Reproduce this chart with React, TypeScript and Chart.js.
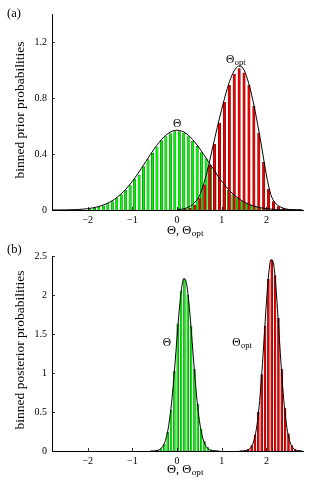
import React, { useEffect, useRef } from 'react';
import { Chart, registerables } from 'chart.js';

Chart.register(...registerables);

const FONT = '"Liberation Serif", "Times New Roman", serif';

// ---------- shared axis ticks ----------
const xTicks = [-2, -1, 0, 1, 2];
const yTicksA = [0, 0.4, 0.8, 1.2];
const yTicksB = [0, 0.5, 1, 1.5, 2, 2.5];

// ---------- panel (a): prior ----------
const priorThetaBinX = [-1.95, -1.85, -1.75, -1.65, -1.55, -1.45, -1.35, -1.25, -1.15, -1.05, -0.95, -0.85, -0.75, -0.65, -0.55, -0.45, -0.35, -0.25, -0.15, -0.05, 0.05, 0.15, 0.25, 0.35, 0.45, 0.55, 0.65, 0.75, 0.85, 0.95, 1.05, 1.15, 1.25, 1.35, 1.45, 1.55, 1.65, 1.75, 1.85, 1.95];
const priorThetaBinY = [0.007, 0.012, 0.02, 0.03, 0.045, 0.06, 0.085, 0.11, 0.14, 0.175, 0.22, 0.25, 0.31, 0.36, 0.405, 0.45, 0.495, 0.525, 0.545, 0.56, 0.56, 0.55, 0.525, 0.49, 0.455, 0.41, 0.365, 0.315, 0.27, 0.22, 0.18, 0.14, 0.11, 0.085, 0.06, 0.045, 0.032, 0.022, 0.014, 0.008];
const priorOptBinX = [0.18, 0.29, 0.4, 0.51, 0.62, 0.73, 0.84, 0.95, 1.06, 1.17, 1.28, 1.39, 1.5, 1.61, 1.72, 1.83, 1.94, 2.05, 2.16, 2.27, 2.38, 2.49];
const priorOptBinY = [0.004, 0.012, 0.035, 0.085, 0.18, 0.32, 0.47, 0.62, 0.77, 0.89, 0.97, 1.01, 0.98, 0.89, 0.74, 0.55, 0.34, 0.15, 0.06, 0.025, 0.01, 0.004];
const priorThetaCurveX = [-2.8, -2.7, -2.6, -2.5, -2.4, -2.3, -2.2, -2.1, -2.0, -1.9, -1.8, -1.7, -1.6, -1.5, -1.4, -1.3, -1.2, -1.1, -1.0, -0.9, -0.8, -0.7, -0.6, -0.5, -0.4, -0.3, -0.2, -0.1, 0, 0.1, 0.2, 0.3, 0.4, 0.5, 0.6, 0.7, 0.8, 0.9, 1.0, 1.1, 1.2, 1.3, 1.4, 1.5, 1.6, 1.7, 1.8, 1.9, 2.0, 2.1, 2.2, 2.3, 2.4, 2.5, 2.6, 2.7, 2.8];
const priorThetaCurveY = [0.0002, 0.0003, 0.0006, 0.001, 0.0016, 0.0026, 0.0041, 0.0063, 0.0096, 0.0143, 0.021, 0.03, 0.042, 0.057, 0.077, 0.102, 0.131, 0.166, 0.205, 0.249, 0.297, 0.346, 0.395, 0.442, 0.484, 0.52, 0.547, 0.564, 0.57, 0.564, 0.547, 0.52, 0.484, 0.442, 0.395, 0.346, 0.297, 0.249, 0.205, 0.166, 0.131, 0.102, 0.077, 0.057, 0.042, 0.03, 0.021, 0.0143, 0.0096, 0.0063, 0.0041, 0.0026, 0.0016, 0.001, 0.0006, 0.0003, 0.0002];
const priorOptCurveX = [0, 0.1, 0.2, 0.3, 0.4, 0.5, 0.6, 0.7, 0.8, 0.9, 1.0, 1.1, 1.2, 1.3, 1.4, 1.5, 1.6, 1.7, 1.8, 1.9, 2.0, 2.1, 2.2, 2.3, 2.4, 2.5, 2.6, 2.7, 2.8];
const priorOptCurveY = [0.003, 0.006, 0.013, 0.028, 0.055, 0.1, 0.19, 0.31, 0.45, 0.59, 0.72, 0.84, 0.94, 1.005, 1.03, 1.0, 0.91, 0.78, 0.62, 0.44, 0.25, 0.11, 0.05, 0.024, 0.011, 0.004, 0.002, 0.0005, 0];

// ---------- panel (b): posterior ----------
const postThetaBinX = [-0.435, -0.36, -0.285, -0.21, -0.135, -0.06, 0.015, 0.09, 0.165, 0.24, 0.315, 0.39, 0.465, 0.54, 0.615, 0.69, 0.765, 0.84];
const postThetaBinY = [0.01, 0.03, 0.09, 0.24, 0.52, 1.02, 1.63, 2.05, 2.2, 2.0, 1.6, 1.05, 0.6, 0.28, 0.12, 0.045, 0.015, 0.005];
const postOptBinX = [1.52, 1.595, 1.67, 1.745, 1.82, 1.895, 1.97, 2.045, 2.12, 2.195, 2.27, 2.345, 2.42, 2.495, 2.57, 2.645, 2.72];
const postOptBinY = [0.005, 0.02, 0.07, 0.2, 0.5, 0.98, 1.6, 2.2, 2.45, 2.25, 1.7, 1.05, 0.55, 0.22, 0.07, 0.02, 0.006];
const postThetaCurveX = [-0.6, -0.55, -0.5, -0.45, -0.4, -0.35, -0.3, -0.25, -0.2, -0.15, -0.1, -0.05, 0, 0.05, 0.1, 0.15, 0.2, 0.25, 0.3, 0.35, 0.4, 0.45, 0.5, 0.55, 0.6, 0.65, 0.7, 0.75, 0.8, 0.85, 0.9, 0.95];
const postThetaCurveY = [0, 0.001, 0.0024, 0.0065, 0.016, 0.037, 0.079, 0.155, 0.284, 0.48, 0.751, 1.088, 1.459, 1.81, 2.08, 2.212, 2.178, 1.986, 1.676, 1.309, 0.947, 0.634, 0.393, 0.225, 0.12, 0.059, 0.027, 0.011, 0.0044, 0.0016, 0.0005, 0];
const postOptCurveX = [1.4, 1.45, 1.5, 1.55, 1.6, 1.65, 1.7, 1.75, 1.8, 1.85, 1.9, 1.95, 2.0, 2.05, 2.1, 2.15, 2.2, 2.25, 2.3, 2.35, 2.4, 2.45, 2.5, 2.55, 2.6, 2.65, 2.7, 2.75, 2.8];
const postOptCurveY = [0.0002, 0.0007, 0.002, 0.0064, 0.017, 0.043, 0.097, 0.2, 0.377, 0.648, 1.016, 1.453, 1.897, 2.258, 2.452, 2.429, 2.196, 1.811, 1.363, 0.935, 0.585, 0.335, 0.175, 0.083, 0.036, 0.014, 0.005, 0.0017, 0.0005];

const GREEN_FILL = 'rgb(10,240,10)';
const GREEN_EDGE = 'rgb(0,100,0)';
const RED_FILL = 'rgb(235,0,0)';
const RED_EDGE = 'rgb(100,0,0)';

type Pt = { x: number; y: number };
const zip = (xs: number[], ys: number[]): Pt[] => xs.map((x, i) => ({ x, y: ys[i] }));

const fmtX = (v: number) => (v < 0 ? '\u2212' + Math.abs(v) : String(v));

function drawRich(ctx: CanvasRenderingContext2D, parts: { t: string; sub?: boolean }[], x: number, baseline: number, size: number, align: 'left' | 'center') {
  const subSize = size * 0.74;
  const widths = parts.map((p) => {
    ctx.font = `${p.sub ? subSize : size}px ${FONT}`;
    return ctx.measureText(p.t).width;
  });
  const total = widths.reduce((a, b) => a + b, 0);
  let cx = align === 'center' ? x - total / 2 : x;
  ctx.textAlign = 'left';
  ctx.textBaseline = 'alphabetic';
  parts.forEach((p, i) => {
    ctx.font = `${p.sub ? subSize : size}px ${FONT}`;
    ctx.fillText(p.t, cx + (p.sub ? 0.5 : 0), p.sub ? baseline + size * 0.17 : baseline);
    cx += widths[i] + (p.sub ? 0.5 : 0);
  });
}

const inwardTicks = {
  id: 'inwardTicks',
  afterDatasetsDraw(chart: any) {
    const { ctx, chartArea, scales } = chart;
    ctx.save();
    ctx.strokeStyle = '#000';
    ctx.lineWidth = 0.8;
    ctx.beginPath();
    scales.x.ticks.forEach((t: any) => {
      const px = Math.round(scales.x.getPixelForValue(t.value)) + 0.5;
      ctx.moveTo(px, chartArea.bottom);
      ctx.lineTo(px, chartArea.bottom - 3);
    });
    scales.y.ticks.forEach((t: any) => {
      const py = Math.round(scales.y.getPixelForValue(t.value)) + 0.5;
      ctx.moveTo(chartArea.left, py);
      ctx.lineTo(chartArea.left + 3, py);
    });
    ctx.stroke();
    ctx.restore();
  },
};

const panelText = {
  id: 'panelText',
  afterDraw(chart: any, _args: any, opts: any) {
    const { ctx, scales } = chart;
    ctx.save();
    ctx.fillStyle = '#000';
    ctx.font = `12.5px ${FONT}`;
    ctx.textAlign = 'left';
    ctx.textBaseline = 'middle';
    ctx.fillText(opts.label, opts.labelPos[0], opts.labelPos[1]);
    ctx.save();
    ctx.translate(opts.yTitlePos[0], opts.yTitlePos[1]);
    ctx.rotate(-Math.PI / 2);
    ctx.font = `13.5px ${FONT}`;
    ctx.textAlign = 'center';
    ctx.textBaseline = 'middle';
    ctx.fillText(opts.yTitle, 0, 0);
    ctx.restore();
    drawRich(ctx, [{ t: '\u0398, \u0398' }, { t: 'opt', sub: true }], opts.xTitlePos[0], opts.xTitlePos[1], 12.5, 'center');
    opts.annotations.forEach((a: any) => {
      const px = scales.x.getPixelForValue(a.x);
      const py = scales.y.getPixelForValue(a.y);
      ctx.font = `11.5px ${FONT}`;
      const w = ctx.measureText('\u0398').width;
      const parts = a.sub ? [{ t: '\u0398' }, { t: a.sub, sub: true }] : [{ t: '\u0398' }];
      drawRich(ctx, parts, px - w / 2, py + 4, 11.5, 'left');
    });
    ctx.restore();
  },
};

type PanelSpec = {
  yMax: number;
  yTicks: number[];
  top: number;
  xAxisH: number;
  barW: number;
  thetaBins: Pt[];
  optBins: Pt[];
  thetaCurve: Pt[];
  optCurve: Pt[];
  text: any;
};

function buildConfig(p: PanelSpec): any {
  const tickFont = { family: FONT, size: 10 };
  return {
    type: 'bar',
    data: {
      datasets: [
        { type: 'line', data: p.thetaCurve, borderColor: '#000', borderWidth: 1, pointRadius: 0, cubicInterpolationMode: 'monotone', fill: false, order: 0 },
        { type: 'line', data: p.optCurve, borderColor: '#000', borderWidth: 1, pointRadius: 0, cubicInterpolationMode: 'monotone', fill: false, order: 0 },
        { type: 'bar', data: p.optBins, backgroundColor: RED_FILL, borderColor: RED_EDGE, borderWidth: 0.5, barThickness: p.barW, grouped: false, order: 1 },
        { type: 'bar', data: p.thetaBins, backgroundColor: GREEN_FILL, borderColor: GREEN_EDGE, borderWidth: 0.5, barThickness: p.barW, grouped: false, order: 2 },
      ],
    },
    options: {
      animation: false,
      responsive: false,
      devicePixelRatio: 1,
      layout: { padding: { top: p.top, right: 10, left: 0, bottom: 0 } },
      plugins: { legend: { display: false }, tooltip: { enabled: false }, panelText: p.text },
      scales: {
        x: {
          type: 'linear',
          min: -2.8,
          max: 2.82,
          offset: false,
          grid: { display: false, drawTicks: false },
          border: { display: true, color: '#000', width: 1 },
          ticks: { padding: 4, font: tickFont, color: '#000', callback: (v: number) => fmtX(v), maxRotation: 0 },
          afterBuildTicks: (axis: any) => { axis.ticks = xTicks.map((v) => ({ value: v })); },
          afterFit: (s: any) => { s.height = p.xAxisH; },
        },
        y: {
          type: 'linear',
          min: 0,
          max: p.yMax,
          grid: { display: false, drawTicks: false },
          border: { display: true, color: '#000', width: 1 },
          ticks: { padding: 5, font: tickFont, color: '#000', callback: (v: number) => String(v) },
          afterBuildTicks: (axis: any) => { axis.ticks = p.yTicks.map((v) => ({ value: v })); },
          afterFit: (s: any) => { s.width = 52; },
        },
      },
    },
    plugins: [inwardTicks, panelText],
  };
}

const panelA: PanelSpec = {
  yMax: 1.4,
  yTicks: yTicksA,
  top: 14,
  xAxisH: 30,
  barW: 2.4,
  thetaBins: zip(priorThetaBinX, priorThetaBinY),
  optBins: zip(priorOptBinX, priorOptBinY),
  thetaCurve: zip(priorThetaCurveX, priorThetaCurveY),
  optCurve: zip(priorOptCurveX, priorOptCurveY),
  text: {
    label: '(a)',
    labelPos: [7, 14],
    yTitle: 'binned prior probabilities',
    yTitlePos: [20, 110],
    xTitlePos: [185, 234],
    annotations: [
      { x: 0, y: 0.62, sub: '' },
      { x: 1.19, y: 1.08, sub: 'opt' },
    ],
  },
};

const panelB: PanelSpec = {
  yMax: 2.5,
  yTicks: yTicksB,
  top: 16,
  xAxisH: 37,
  barW: 1.9,
  thetaBins: zip(postThetaBinX, postThetaBinY),
  optBins: zip(postOptBinX, postOptBinY),
  thetaCurve: zip(postThetaCurveX, postThetaCurveY),
  optCurve: zip(postOptCurveX, postOptCurveY),
  text: {
    label: '(b)',
    labelPos: [7, 10],
    yTitle: 'binned posterior probabilities',
    yTitlePos: [20, 110],
    xTitlePos: [185, 233],
    annotations: [
      { x: -0.225, y: 1.4, sub: '' },
      { x: 1.33, y: 1.4, sub: 'opt' },
    ],
  },
};

function Panel({ spec, top, height }: { spec: PanelSpec; top: number; height: number }) {
  const ref = useRef<HTMLCanvasElement | null>(null);
  useEffect(() => {
    if (!ref.current) return;
    const chart = new Chart(ref.current, buildConfig(spec));
    return () => chart.destroy();
  }, [spec]);
  return (
    <canvas
      ref={ref}
      width={313}
      height={height}
      style={{ position: 'absolute', left: 0, top, width: 313, height, display: 'block' }}
    />
  );
}

export default function App() {
  useEffect(() => {
    document.body.style.margin = '0';
    document.body.style.overflow = 'hidden';
    document.body.style.background = '#fff';
  }, []);
  return (
    <div style={{ position: 'relative', width: 313, height: 488, background: '#fff' }}>
      <Panel spec={panelA} top={0} height={240} />
      <Panel spec={panelB} top={240} height={248} />
    </div>
  );
}
